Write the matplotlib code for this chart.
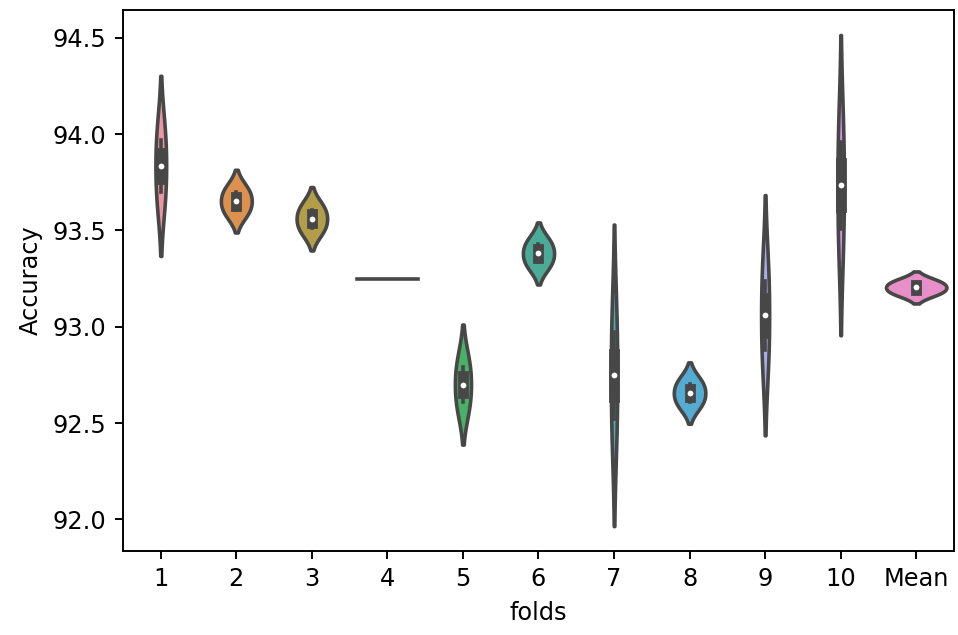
import colorsys
import numpy as np
import matplotlib
matplotlib.use("Agg")
import matplotlib.pyplot as plt

# Two runs per fold (median = centre, extent = range + 4 bw)
folds = ["1", "2", "3", "4", "5", "6", "7", "8", "9", "10", "Mean"]
run_a = [93.70, 93.605, 93.513, 93.25, 92.61, 93.334, 92.522, 92.61, 92.88, 93.51, 93.18]
run_b = [93.97, 93.699, 93.608, 93.25, 92.79, 93.427, 92.974, 92.702, 93.24, 93.96, 93.228]

# the reference was drawn at a larger scale, so blow up the default sizes
S = 1.73
plt.rcParams.update({
    "font.size": 10 * S,
    "axes.linewidth": 0.8 * S,
    "lines.linewidth": 1.5 * S,
    "xtick.major.width": 0.8 * S,
    "ytick.major.width": 0.8 * S,
    "xtick.major.size": 3.5 * S,
    "ytick.major.size": 3.5 * S,
    "xtick.major.pad": 3.5 * S,
    "ytick.major.pad": 3.5 * S,
    "axes.labelpad": 4 * S,
})

# husl palette (as seaborn picks for 11 categories)
M = [[3.2406, -1.5372, -0.4986], [-0.9689, 1.8758, 0.0415], [0.0557, -0.2040, 1.0570]]
REF_U, REF_V = 0.19784, 0.46834
KAPPA, EPS = 903.2963, 0.0088564


def max_chroma(L, H):
    hrad = np.radians(H)
    sinH, cosH = np.sin(hrad), np.cos(hrad)
    sub1 = (L + 16) ** 3 / 1560896.0
    sub2 = sub1 if sub1 > EPS else L / KAPPA
    result = float("inf")
    for m1, m2, m3 in M:
        top = (0.99915 * m1 + 1.05122 * m2 + 1.14460 * m3) * sub2
        rbottom = 0.86330 * m3 - 0.17266 * m2
        lbottom = 0.12949 * m3 - 0.38848 * m1
        bottom = (rbottom * sinH + lbottom * cosH) * sub2
        for t in (0.0, 1.0):
            C = L * (top - 1.05122 * t) / (bottom + 0.17266 * sinH * t)
            if 0 < C < result:
                result = C
    return result


def husl_to_rgb(h, s, l):
    C = max_chroma(l, h) / 100.0 * s
    hrad = np.radians(h)
    U, V = np.cos(hrad) * C, np.sin(hrad) * C
    Y = ((l + 16) / 116.0) ** 3 if l > 8 else l / KAPPA
    varU = U / (13 * l) + REF_U
    varV = V / (13 * l) + REF_V
    X = -(9 * Y * varU) / ((varU - 4) * varV - varU * varV)
    Z = (9 * Y - 15 * varV * Y - varV * X) / (3 * varV)
    rgb = []
    for row in M:
        c = row[0] * X + row[1] * Y + row[2] * Z
        c = 12.92 * c if c <= 0.0031308 else 1.055 * c ** (1 / 2.4) - 0.055
        rgb.append(min(max(c, 0.0), 1.0))
    return rgb


def desaturate(c, p):
    h, l, s = colorsys.rgb_to_hls(*c)
    return colorsys.hls_to_rgb(h, l, s * p)


hues = (np.linspace(0, 1, len(folds) + 1)[:-1] + 0.01) % 1 * 359
colors = [desaturate(husl_to_rgb(h, 0.9 * 99, 0.7 * 99), 0.75) for h in hues]
lum = min(colorsys.rgb_to_hls(*c)[1] for c in colors) * 0.6
gray = (lum, lum, lum)

# kde per fold, scott bandwidth, cut=2
values = np.column_stack([run_a, run_b])
supports, densities = [], []
for vals in values:
    if np.ptp(vals) == 0:
        supports.append(None)
        densities.append(None)
        continue
    bw = len(vals) ** (-1 / 5) * vals.std(ddof=1)
    support = np.linspace(vals.min() - 2 * bw, vals.max() + 2 * bw, 100)
    dens = np.exp(-0.5 * ((support[:, None] - vals[None, :]) / bw) ** 2).sum(axis=1)
    dens /= len(vals) * bw * np.sqrt(2 * np.pi)
    supports.append(support)
    densities.append(dens)

max_density = max(d.max() for d in densities if d is not None)
half = 0.4
lw = plt.rcParams["lines.linewidth"]

fig = plt.figure(figsize=(9.58, 6.35), dpi=100)
ax = fig.add_axes([0.1284, 0.1328, 0.8674, 0.8507])

for i, vals in enumerate(values):
    if supports[i] is None:
        ax.plot([i - half, i + half], [vals[0], vals[0]], color=gray, linewidth=lw)
        continue
    d = densities[i] / max_density
    ax.fill_betweenx(supports[i], i - d * half, i + d * half,
                     facecolor=colors[i], edgecolor=gray, linewidth=lw)
    q25, q50, q75 = np.percentile(vals, [25, 50, 75])
    ax.plot([i, i], [vals.min(), vals.max()], linewidth=lw, color=gray)
    ax.plot([i, i], [q25, q75], linewidth=lw * 3, color=gray)
    ax.scatter(i, q50, zorder=3, color="white", edgecolor=gray, s=(lw * 2) ** 2)

ax.set_xticks(range(len(folds)))
ax.set_xticklabels(folds)
ax.set_xlim(-0.5, len(folds) - 0.5)
ax.set_xlabel("folds")
ax.set_ylabel("Accuracy")

fig.savefig("out.png", dpi=100)
